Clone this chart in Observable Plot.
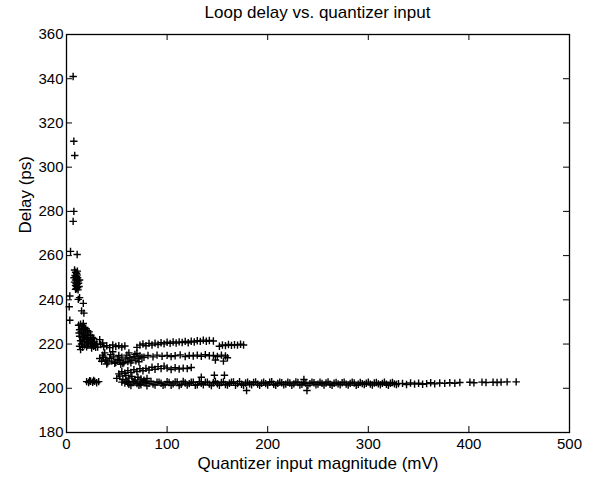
<!DOCTYPE html>
<html>
<head>
<meta charset="utf-8">
<script src="https://cdn.jsdelivr.net/npm/d3@7"></script>
<script src="https://cdn.jsdelivr.net/npm/@observablehq/plot@0.6"></script>
<style>
  html, body { margin: 0; padding: 0; background: #fff; }
  #title { width: 593px; height: 24px; line-height: 25px; box-sizing: border-box; padding-left: 42px;
           text-align: center; font-family: "Liberation Sans", Arial, Helvetica, sans-serif; font-size: 17px; color: #000; }
  #chart svg { display: block; }
</style>
</head>
<body>
<div id="title">Loop delay vs. quantizer input</div>
<div id="chart"></div>
<script>
// ---- tick values ----
const xTicks = [0, 100, 200, 300, 400, 500];
const yTicks = [180, 200, 220, 240, 260, 280, 300, 320, 340, 360];

// ---- data: input magnitude (mV) / delay (ps) ----
// sparse high-delay points at very small input
const spikeX = [6.6, 7.3, 8.2, 7.3, 6.6, 4.0, 10.6, 3.3, 2.7, 3.3, 11.7, 16.7, 15.0, 17.3, 16.7, 13.0];
const spikeY = [341, 311.7, 305.3, 280, 275.5, 261.9, 260.5, 241.7, 236.9, 230.8, 240.2, 238.4, 235, 234, 229.3, 241];

// dense cluster near 248 ps
const peakX = [8, 9, 10, 8.5, 9.5, 10.5, 11, 9, 10, 11.5, 8, 9.5, 10.5, 12, 9, 10, 11, 12.5, 10, 11.5, 9, 13, 7.5, 10.8];
const peakY = [253.5, 252.5, 252, 251, 250.5, 251.2, 250, 249, 249.5, 248.5, 248, 247.5, 247, 247.5, 246.5, 246, 245.5, 246, 245, 244.5, 244.8, 249, 250, 253];

// blob near 224 ps
const blobX = [12, 14, 16, 18, 13, 15, 17, 19, 21, 12.5, 14.5, 16.5, 18.5, 20.5, 22.5, 24, 13, 15.5, 17.5, 19.5, 21.5, 23.5, 25.5, 27, 14, 16, 18, 20, 22, 24, 26, 28, 15, 18, 21, 24, 27, 30, 33, 36, 16, 20, 25, 29, 14, 13];
const blobY = [228.5, 229, 228, 227.5, 226.5, 227, 226.5, 227, 226, 225, 225.5, 224.5, 225, 224, 225.5, 224, 223.5, 223, 223.5, 222.5, 223, 222, 223, 222.5, 221.5, 221, 222, 221, 220.5, 221.5, 220.5, 221, 220, 219.5, 219.5, 220, 219, 220, 222, 220.5, 218.5, 218.8, 218.2, 218.5, 217.5, 219];

// upper branch near 220 ps
const upperX = [28, 31, 34, 37, 40, 43, 46, 49, 52, 55, 58, 70, 73, 76, 79, 82, 85, 88, 91, 94, 97, 100, 103, 106, 109, 112, 115, 118, 121, 124, 127, 130, 133, 136, 139, 142, 146, 152, 155, 158, 161, 164, 167, 170, 173, 176];
const upperY = [219.5, 218.6, 219.8, 218.8, 219.2, 218.4, 219.6, 218.9, 219.3, 218.7, 219.1, 218.5, 219.5, 220, 219.2, 220.3, 219.6, 220.4, 219.8, 220.6, 220.1, 220.8, 220.3, 220.9, 220.5, 221, 220.7, 221.2, 220.6, 221.3, 220.9, 221.5, 221.2, 221.8, 221.3, 221.6, 221.4, 219, 219.6, 219.3, 219.8, 219.4, 219.7, 219.5, 219.9, 219.6];

// middle branch near 214.5 ps
const midX = [77, 81, 86, 90, 95, 100, 104, 108, 113, 118, 122, 126, 130, 134, 138, 142, 146, 150, 154, 158, 160, 148, 156];
const midY = [214, 214.8, 214.2, 215, 214.5, 214.9, 214.3, 214.7, 215.1, 214.4, 214.9, 214.6, 215, 214.5, 215.2, 214.7, 214.9, 214.4, 215, 214.6, 213.8, 212.8, 212.3];

// thick band near 213 ps (33-75 mV)
const lowMidX = [33, 35, 37, 39, 41, 43, 45, 47, 49, 51, 53, 55, 57, 59, 61, 63, 65, 67, 69, 71, 73, 75, 36, 40, 44, 48, 52, 56, 60, 64, 68, 72, 38, 46, 54, 62, 70];
const lowMidY = [213.5, 212.2, 214, 212.8, 211.5, 213.6, 212.3, 214.2, 211.8, 213, 212.5, 214.1, 211.6, 213.3, 212.1, 213.8, 212.7, 214.3, 212.4, 213.5, 214.6, 213.9, 215, 211, 215.2, 211.3, 214.8, 211.2, 215, 211.5, 215.3, 212, 216, 216.5, 210.8, 216, 215.8];

// branch near 208 ps
const b208X = [52, 55, 58, 61, 64, 67, 70, 73, 76, 79, 82, 85, 88, 91, 94, 97, 100, 104, 108, 112, 116, 120, 124];
const b208Y = [206.5, 207.5, 206.8, 208, 207.2, 208.4, 207.6, 208.8, 207.9, 209, 208.3, 209.5, 208.6, 209.8, 208.9, 210, 209.2, 208.5, 209.3, 208.7, 209.1, 208.9, 209.4];

// start of the floor band and a few stragglers
const footX = [50, 53, 56, 59, 62, 65, 68, 71, 74, 77, 80, 55, 61, 67, 73, 79, 147, 157, 134, 179, 239, 236];
const footY = [204.5, 205.5, 204, 205.8, 204.6, 205.3, 203.8, 205, 204.2, 203.6, 204.4, 202.8, 202.5, 203, 202.4, 202.6, 205.9, 205.9, 205, 199, 199, 204];

// small group near 203 ps (20-33 mV)
const kinkX = [20, 22, 24, 26, 28, 30, 32, 23, 27];
const kinkY = [203, 202.6, 203.2, 202.7, 203.1, 202.5, 203, 203.4, 203.5];

// floor band near 202 ps, first row
const floorAX = [58, 62, 66, 70, 74, 78, 82, 86, 90, 94, 98, 102, 106, 110, 114, 118, 122, 126, 130, 134, 138, 142, 146, 150, 154, 158, 162, 166, 170, 174, 178, 182, 186, 190, 194, 198, 202, 206, 210, 214, 218, 222, 226, 230, 234, 238, 242, 246, 250, 254, 258, 262, 266, 270, 274, 278, 282, 286, 290, 294, 298, 302, 306, 310, 314, 318, 322, 326, 330];
const floorAY = [202.4, 201.8, 202.9, 202.1, 201.6, 202.7, 202.2, 201.9, 202.8, 202.3,
                 201.7, 202.6, 202.0, 202.9, 201.8, 202.4, 202.1, 202.7, 201.6, 202.3,
                 202.8, 201.9, 202.5, 202.0, 202.6, 201.7, 202.3, 202.9, 202.1, 201.8,
                 202.4, 202.0, 202.6, 201.9, 202.3, 202.1, 202.7, 201.8, 202.2, 202.5,
                 201.9, 202.4, 202.0, 202.6, 201.8, 202.3, 202.1, 202.5, 201.9, 202.2,
                 202.4, 201.8, 202.3, 202.0, 202.5, 201.9, 202.2, 202.4, 201.8, 202.1,
                 202.3, 201.9, 202.4, 202.0, 202.2, 201.8, 202.3, 202.0, 202.1];

// floor band, second row
const floorBX = [60, 64, 68, 72, 76, 80, 84, 88, 92, 96, 100, 104, 108, 112, 116, 120, 124, 128, 132, 136, 140, 144, 148, 152, 156, 160, 164, 168, 172, 176, 180, 184, 188, 192, 196, 200, 204, 208, 212, 216, 220, 224, 228, 232, 236, 240, 244, 248, 252, 256, 260, 264, 268, 272, 276, 280, 284, 288, 292, 296, 300, 304, 308, 312, 316, 320, 324, 328];
const floorBY = [203.2, 201.2, 203.0, 201.4, 202.9, 201.1, 203.1, 201.5, 202.8, 201.3,
                 203.0, 201.4, 202.9, 201.2, 203.1, 201.5, 202.7, 201.3, 203.0, 201.6,
                 202.8, 201.2, 203.1, 201.4, 202.9, 201.5, 202.7, 201.3, 203.0, 201.4,
                 202.8, 201.6, 202.9, 201.3, 202.7, 201.5, 203.0, 201.4, 202.8, 201.6,
                 202.7, 201.4, 202.9, 201.5, 202.6, 201.3, 202.8, 201.6, 202.7, 201.5,
                 202.9, 201.4, 202.6, 201.6, 202.8, 201.5, 202.7, 201.4, 202.6, 201.7,
                 202.8, 201.5, 202.6, 201.6, 202.7, 201.4, 202.6, 201.7];

// sparse tail at large input
const tailX = [334, 338, 342, 346, 350, 354, 358, 362, 366, 371, 376, 381, 386, 391, 401, 405, 413, 417, 424, 428, 432, 438, 447];
const tailY = [202.2, 201.7, 202.4, 201.9, 202.3, 201.8, 202.1, 202.5, 202.0, 202.4, 202.2, 202.5, 202.3, 202.6, 202.7, 202.5, 202.8, 202.6, 202.7, 202.6, 202.8, 202.9, 202.9];

const groups = [[spikeX, spikeY], [peakX, peakY], [blobX, blobY], [upperX, upperY], [midX, midY],
                [lowMidX, lowMidY], [b208X, b208Y], [footX, footY], [kinkX, kinkY],
                [floorAX, floorAY], [floorBX, floorBY], [tailX, tailY]];
const points = groups.flatMap(([xs, ys]) => xs.map((x, i) => ({x, y: ys[i]})));

// "+" marker
const cross = {
  draw(ctx, size) {
    const r = Math.sqrt(size / Math.PI);
    ctx.moveTo(-r, 0); ctx.lineTo(r, 0);
    ctx.moveTo(0, -r); ctx.lineTo(0, r);
  }
};

const W = 593, H = 455;
const mL = 66, mR = 24, mT = 10, mB = 47;
const innerW = W - mL - mR, innerH = H - mT - mB;
const tk = 6;

const chart = Plot.plot({
  width: W, height: H,
  marginLeft: mL, marginRight: mR, marginTop: mT, marginBottom: mB,
  style: {fontFamily: '"Liberation Sans", Arial, Helvetica, sans-serif', fontSize: "15px", color: "#000", background: "#fff"},
  x: {domain: [0, 500]},
  y: {domain: [180, 360]},
  marks: [
    Plot.axisX({ticks: xTicks, tickSize: 0, tickPadding: 6, label: null, fontSize: 15}),
    Plot.axisY({ticks: yTicks, tickSize: 0, tickPadding: 3, label: null, fontSize: 15}),
    Plot.tickX(xTicks, {x: d => d, insetTop: innerH - tk, stroke: "#000", strokeWidth: 1}),
    Plot.tickX(xTicks, {x: d => d, insetBottom: innerH - tk, stroke: "#000", strokeWidth: 1}),
    Plot.tickY(yTicks, {y: d => d, insetRight: innerW - tk, stroke: "#000", strokeWidth: 1}),
    Plot.tickY(yTicks, {y: d => d, insetLeft: innerW - tk, stroke: "#000", strokeWidth: 1}),
    Plot.dot(points, {x: "x", y: "y", symbol: cross, r: 3.7, stroke: "#000", strokeWidth: 1.4, fill: "none"}),
    Plot.frame({stroke: "#000", strokeWidth: 1.3}),
    Plot.text(["Quantizer input magnitude (mV)"], {frameAnchor: "bottom", dy: 36, fontSize: 17, fill: "#000"}),
    Plot.text(["Delay (ps)"], {frameAnchor: "left", dx: -41, rotate: -90, fontSize: 17, fill: "#000"})
  ]
});
document.getElementById("chart").appendChild(chart);
</script>
</body>
</html>
